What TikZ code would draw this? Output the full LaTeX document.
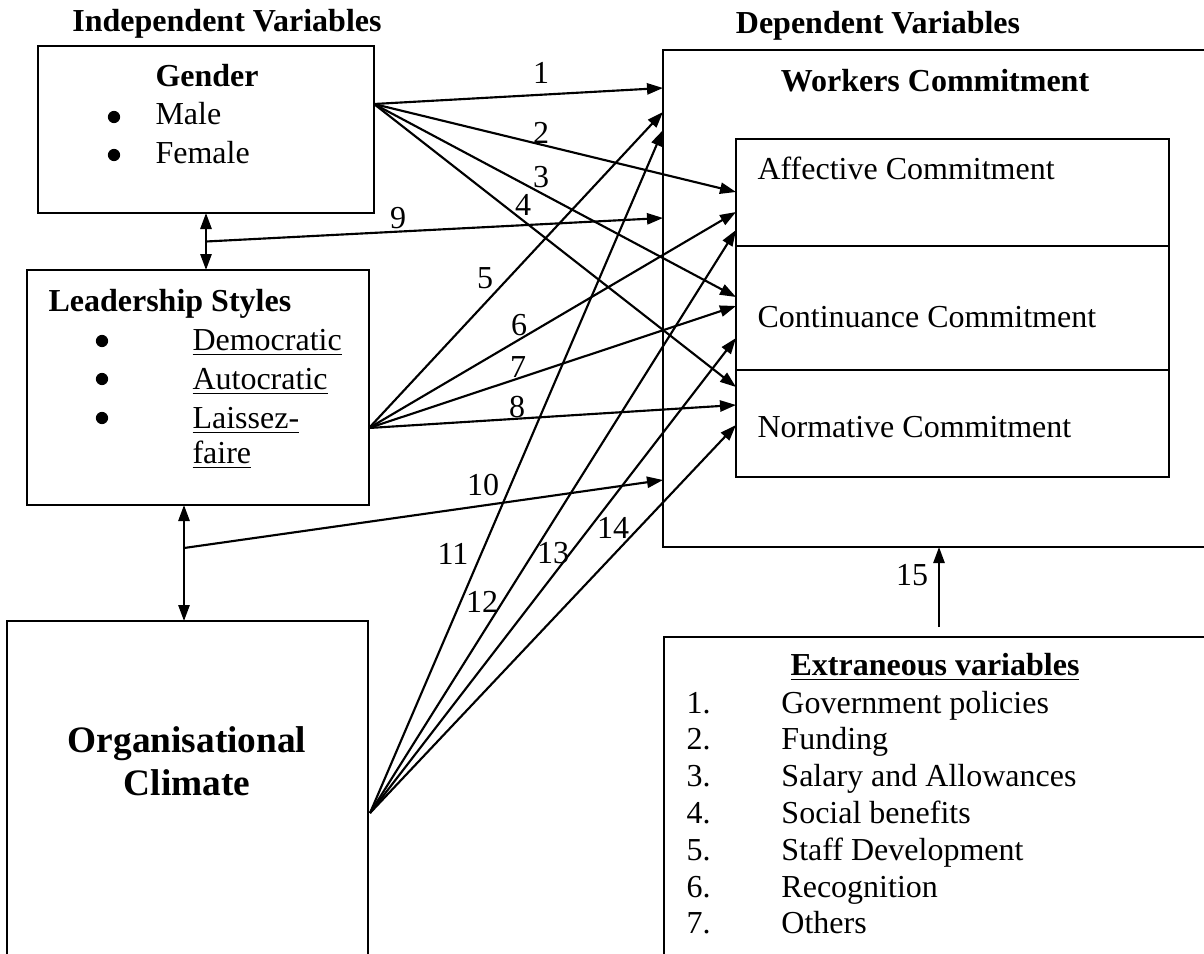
\documentclass[tikz,border=0pt]{standalone}
\usepackage{fontspec}
\setmainfont{Liberation Serif}
\usetikzlibrary{arrows.meta,calc,positioning}

\begin{document}
\begin{tikzpicture}[x=0.375pt, y=-0.375pt,
    font=\fontsize{12}{13.8}\selectfont,
    >={Triangle[length=6pt,width=4.2pt]},
    box/.style={draw, line width=0.6pt, inner sep=0, outer sep=0, anchor=north west},
    txt/.style={inner sep=0, anchor=base west},
    hd/.style={inner sep=0, anchor=base, font=\fontsize{12}{13.8}\selectfont\bfseries},
    num/.style={inner sep=0},
    dot/.style={circle, fill, inner sep=0, minimum size=4.6pt},
    link/.style={->, line width=0.8pt}]

    \clip (0,0) rectangle (1204,953);

    % boxes
    \node[box, minimum width=126pt, minimum height=62.625pt] (gender) at (38,46) {};
    \node[box, minimum width=128.25pt, minimum height=88.125pt] (lead) at (27,270) {};
    \node[box, minimum width=135.375pt, minimum height=142.5pt] (org) at (7,621) {};
    \node[box, minimum width=223.875pt, minimum height=186.375pt] (workers) at (663,50) {};
    \node[box, minimum width=162.375pt, minimum height=40.125pt] (aff) at (736,139) {};
    \node[box, minimum width=162.375pt, minimum height=46.5pt, below=0pt of aff] (cont) {};
    \node[box, minimum width=162.375pt, minimum height=40.125pt, below=0pt of cont] (norm) {};
    \node[box, minimum width=223.5pt, minimum height=150pt] (extra) at (664,637) {};

    % headings and texts
    \node[hd] (indep) at (227,32) {Independent Variables};
    \node[hd] (dep) at (878,33) {Dependent Variables};

    \node[txt] (gtitle) at (155,86) {\textbf{Gender}};
    \node[dot] (b1) at (114,117) {};
    \node[txt] (male) at (155,124) {Male};
    \node[dot] (b2) at (114,155) {};
    \node[txt] (female) at (155,163) {Female};

    \node[txt] (ltitle) at (48,311) {\textbf{Leadership Styles}};
    \node[dot] (b3) at (102,341) {};
    \node[txt] (demo) at (192,350) {\underline{Democratic}};
    \node[dot] (b4) at (102,379) {};
    \node[txt] (auto) at (192,389) {\underline{Autocratic}};
    \node[dot] (b5) at (102,418) {};
    \node[txt] (lais) at (192,428) {\underline{Laissez-}};
    \node[txt] (faire) at (192,463) {\underline{faire}};

    \node[font=\fontsize{14}{16.1}\selectfont\bfseries, align=center, inner sep=0] (orgtxt) at (187,761) {Organisational\\Climate};

    \node[hd] (wtitle) at (935,91) {Workers Commitment};
    \node[txt] (afftxt) at (757,179) {Affective Commitment};
    \node[txt] (conttxt) at (757,327) {Continuance Commitment};
    \node[txt] (normtxt) at (757,437) {Normative Commitment};

    \node[hd] (extitle) at (935,675) {\underline{Extraneous variables}};
    \node[txt] (exlist) at (686,713) {\begin{tabular}[t]{@{}p{35.6pt}@{}l@{}}
        1. & Government policies\\
        2. & Funding\\
        3. & Salary and Allowances\\
        4. & Social benefits\\
        5. & Staff Development\\
        6. & Recognition\\
        7. & Others
    \end{tabular}};

    % start and end points
    \coordinate (gsrc) at ($(gender.north east)+(0,58)$);
    \coordinate (lsrc) at ($(lead.north east)+(0,158)$);
    \coordinate (osrc) at ($(org.north east)+(2,192)$);
    \coordinate (j9) at ($(gender.south)!0.5!(gender.south |- lead.north)$);
    \coordinate (j10) at ($(lead.south west)+(157,43)$);

    \coordinate (e1) at ($(workers.north west)+(0,38)$);
    \coordinate (e5) at ($(workers.north west)+(0,62)$);
    \coordinate (e11) at ($(workers.north west)+(0,80)$);
    \coordinate (e9) at ($(workers.north west)+(0,168)$);
    \coordinate (e10) at ($(workers.north west)+(0,430)$);
    \coordinate (e2) at ($(aff.north west)+(0,53)$);
    \coordinate (e6) at ($(aff.north west)+(0,73)$);
    \coordinate (e12) at ($(aff.north west)+(0,91)$);
    \coordinate (e3) at ($(cont.north west)+(0,51)$);
    \coordinate (e7) at ($(cont.north west)+(0,60)$);
    \coordinate (e13) at ($(cont.north west)+(0,92)$);
    \coordinate (e4) at ($(norm.north west)+(0,17)$);
    \coordinate (e8) at ($(norm.north west)+(0,35)$);
    \coordinate (e14) at ($(norm.north west)+(0,55)$);
    \coordinate (s15) at ($(extra.north west)+(275,0)$);

    % links between the blocks
    \draw[<->, line width=0.8pt] (gender.south) -- (gender.south |- lead.north);
    \draw[<->, line width=0.8pt] (j10 |- lead.south) -- (j10 |- org.north);

    \draw[link] (gsrc) -- (e1);
    \draw[link] (gsrc) -- (e2);
    \draw[link] (gsrc) -- (e3);
    \draw[link] (gsrc) -- (e4);
    \draw[link] (lsrc) -- (e5);
    \draw[link] (lsrc) -- (e6);
    \draw[link] (lsrc) -- (e7);
    \draw[link] (lsrc) -- (e8);
    \draw[link] (j9) -- (e9);
    \draw[link] (j10) -- (e10);
    \draw[link] (osrc) -- (e11);
    \draw[link] (osrc) -- (e12);
    \draw[link] (osrc) -- (e13);
    \draw[link] (osrc) -- (e14);
    \draw[link, shorten <=3.7pt] (s15) -- (s15 |- workers.south);

    % numbers on the links
    \node[num] (n1) at (541,73) {1};
    \node[num] (n2) at (541,133) {2};
    \node[num] (n3) at (541,177) {3};
    \node[num] (n4) at (523,205) {4};
    \node[num] (n5) at (485,278) {5};
    \node[num] (n6) at (519,325) {6};
    \node[num] (n7) at (518,367) {7};
    \node[num] (n8) at (517,407) {8};
    \node[num] (n9) at (398,218) {9};
    \node[num] (n10) at (483,485) {10};
    \node[num] (n11) at (453,554) {11};
    \node[num] (n12) at (482,602) {12};
    \node[num] (n13) at (553,553) {13};
    \node[num] (n14) at (613,528) {14};
    \node[num] (n15) at (912,575) {15};

\end{tikzpicture}
\end{document}
